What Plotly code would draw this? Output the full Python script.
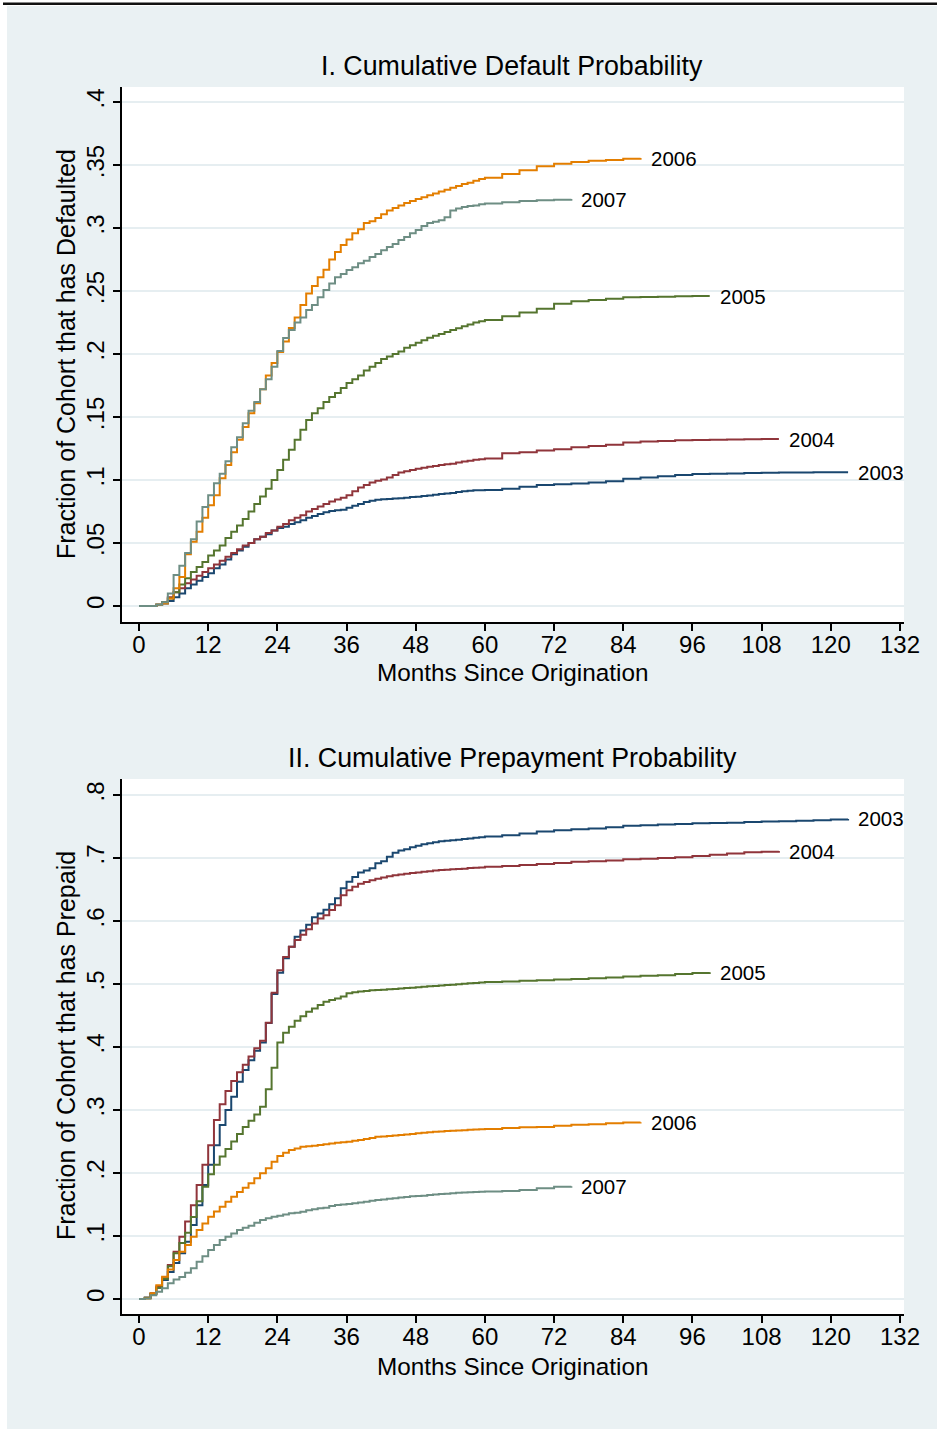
import plotly.graph_objects as go

# Target picture size (what the reference is measured in)
REF_W, REF_H = 937, 1429
# The rendered page turns out to be laid out ~953 px wide and shown at 937 px,
# so the figure is made 953 wide; all positions below are given in picture pixels.
FIG_W, FIG_H = 953, 1429
FONT = "Liberation Sans, Arial, Helvetica, sans-serif"

# ---------------- data ----------------
# month grid: monthly up to 60, then every 3 months
MONTH_GRID = list(range(0, 61)) + list(range(63, 124, 3))
COHORTS = ["2003", "2004", "2005", "2006", "2007"]

# Panel I: cumulative default probability
default_2003 = [0, 0, 0, 0.001, 0.002, 0.004, 0.007, 0.010, 0.014, 0.017,
                0.020, 0.023, 0.026, 0.030, 0.033, 0.037, 0.041, 0.044, 0.047, 0.050,
                0.053, 0.055, 0.057, 0.060, 0.062, 0.063, 0.065, 0.0665, 0.068, 0.070,
                0.0715, 0.073, 0.0745, 0.0755, 0.076, 0.0765, 0.078, 0.0795, 0.081, 0.0825,
                0.0835, 0.0843, 0.0848, 0.085, 0.0853, 0.0856, 0.086, 0.0865, 0.0868, 0.0873,
                0.0878, 0.0883, 0.0889, 0.0893, 0.0898, 0.0904, 0.091, 0.0914, 0.0918, 0.0919,
                0.092,
                0.093, 0.0947, 0.096, 0.0966, 0.0972, 0.098, 0.099, 0.101, 0.102, 0.103,
                0.104, 0.1047, 0.105, 0.1052, 0.1055, 0.1058, 0.106, 0.106, 0.1061, 0.1062, 0.1062]
default_2004 = [0, 0, 0, 0.001, 0.003, 0.007, 0.011, 0.014, 0.018, 0.021,
                0.024, 0.027, 0.030, 0.033, 0.036, 0.039, 0.042, 0.045, 0.048, 0.050,
                0.053, 0.055, 0.058, 0.060, 0.063, 0.065, 0.068, 0.070, 0.072, 0.075,
                0.077, 0.079, 0.081, 0.083, 0.0845, 0.086, 0.088, 0.091, 0.094, 0.096,
                0.098, 0.0995, 0.1005, 0.102, 0.104, 0.106, 0.107, 0.108, 0.109, 0.1098,
                0.1105, 0.1112, 0.112, 0.1125, 0.113, 0.114, 0.1148, 0.1153, 0.116, 0.1165,
                0.117,
                0.1212, 0.122, 0.1235, 0.1245, 0.126, 0.127, 0.128, 0.1297, 0.1305, 0.131,
                0.1315, 0.1318, 0.132, 0.1322, 0.1323, 0.1325, 0.1325]
default_2005 = [0, 0, 0, 0.001, 0.003, 0.006, 0.011, 0.017, 0.022, 0.027,
                0.031, 0.035, 0.040, 0.044, 0.048, 0.054, 0.059, 0.064, 0.069, 0.075,
                0.081, 0.087, 0.093, 0.100, 0.108, 0.116, 0.124, 0.132, 0.140, 0.1476,
                0.153, 0.157, 0.162, 0.166, 0.169, 0.173, 0.177, 0.180, 0.183, 0.187,
                0.190, 0.193, 0.196, 0.198, 0.200, 0.202, 0.205, 0.207, 0.209, 0.211,
                0.213, 0.2145, 0.216, 0.2175, 0.219, 0.2205, 0.222, 0.2235, 0.225, 0.226,
                0.227,
                0.230, 0.233, 0.236, 0.240, 0.242, 0.243, 0.244, 0.245, 0.2452, 0.2455,
                0.2458, 0.246, 0.246]
default_2006 = [0, 0, 0, 0.001, 0.002, 0.006, 0.014, 0.023, 0.041, 0.051,
                0.059, 0.070, 0.080, 0.088, 0.1015, 0.112, 0.122, 0.132, 0.142, 0.153,
                0.161, 0.172, 0.183, 0.193, 0.2016, 0.210, 0.2206, 0.229, 0.239, 0.248,
                0.254, 0.261, 0.267, 0.275, 0.281, 0.2865, 0.291, 0.296, 0.299, 0.304,
                0.3055, 0.308, 0.311, 0.314, 0.316, 0.318, 0.320, 0.3215, 0.323, 0.3245,
                0.326, 0.3275, 0.329, 0.3305, 0.332, 0.3335, 0.335, 0.336, 0.3375, 0.339,
                0.340,
                0.343, 0.346, 0.349, 0.351, 0.3525, 0.3535, 0.354, 0.355, 0.3556]
default_2007 = [0, 0, 0, 0.001, 0.003, 0.010, 0.0246, 0.032, 0.042, 0.053,
                0.067, 0.0786, 0.088, 0.0975, 0.105, 0.115, 0.126, 0.134, 0.145, 0.155,
                0.162, 0.172, 0.180, 0.190, 0.2024, 0.2127, 0.219, 0.225, 0.229, 0.235,
                0.2389, 0.245, 0.2508, 0.256, 0.261, 0.2635, 0.2667, 0.269, 0.272, 0.274,
                0.277, 0.2794, 0.2825, 0.285, 0.2873, 0.2905, 0.293, 0.296, 0.2984, 0.3016,
                0.304, 0.305, 0.3063, 0.3087, 0.314, 0.3155, 0.3167, 0.3175, 0.318, 0.319,
                0.3195,
                0.3205, 0.3215, 0.322, 0.3225, 0.323]

# Panel II: cumulative prepayment probability
prepay_2003 = [0, 0.002, 0.008, 0.018, 0.030, 0.043, 0.057, 0.0725, 0.091, 0.1175,
               0.149, 0.181, 0.213, 0.244, 0.276, 0.300, 0.321, 0.345, 0.3635, 0.379,
               0.394, 0.407, 0.438, 0.484, 0.518, 0.541, 0.559, 0.575, 0.585, 0.594,
               0.606, 0.612, 0.618, 0.6265, 0.636, 0.652, 0.6625, 0.670, 0.677, 0.680,
               0.6836, 0.6916, 0.695, 0.702, 0.7085, 0.712, 0.714, 0.717, 0.7196, 0.722,
               0.7235, 0.725, 0.7265, 0.7275, 0.728, 0.729, 0.730, 0.731, 0.732, 0.733,
               0.734,
               0.736, 0.739, 0.742, 0.744, 0.7455, 0.747, 0.749, 0.751, 0.752, 0.753,
               0.754, 0.755, 0.7555, 0.756, 0.757, 0.758, 0.7585, 0.759, 0.760, 0.761, 0.762]
prepay_2004 = [0, 0.002, 0.009, 0.020, 0.033, 0.054, 0.075, 0.099, 0.123, 0.149,
               0.181, 0.213, 0.244, 0.284, 0.309, 0.330, 0.346, 0.360, 0.372, 0.385,
               0.398, 0.410, 0.4386, 0.486, 0.522, 0.543, 0.559, 0.570, 0.578, 0.587,
               0.596, 0.604, 0.609, 0.6175, 0.625, 0.641, 0.649, 0.6545, 0.659, 0.662,
               0.6645, 0.667, 0.669, 0.671, 0.6725, 0.674, 0.675, 0.676, 0.677, 0.678,
               0.679, 0.680, 0.681, 0.6815, 0.682, 0.6825, 0.683, 0.684, 0.6845, 0.685,
               0.686,
               0.6875, 0.689, 0.6905, 0.692, 0.694, 0.695, 0.696, 0.698, 0.699, 0.700,
               0.701, 0.703, 0.705, 0.707, 0.709, 0.710, 0.711]
prepay_2005 = [0, 0.002, 0.008, 0.018, 0.032, 0.052, 0.0725, 0.089, 0.105, 0.130,
               0.155, 0.178, 0.198, 0.213, 0.226, 0.238, 0.250, 0.262, 0.273, 0.283,
               0.293, 0.305, 0.333, 0.367, 0.407, 0.4227, 0.432, 0.4418, 0.449, 0.456,
               0.461, 0.4667, 0.472, 0.4745, 0.477, 0.480, 0.4852, 0.487, 0.488, 0.489,
               0.490, 0.4905, 0.491, 0.4915, 0.492, 0.4928, 0.4935, 0.494, 0.495, 0.4957,
               0.4963, 0.497, 0.4977, 0.4983, 0.499, 0.4997, 0.5003, 0.501, 0.5017, 0.5023,
               0.503,
               0.504, 0.505, 0.506, 0.507, 0.508, 0.509, 0.5105, 0.512, 0.513, 0.514,
               0.516, 0.5175, 0.5185]
prepay_2006 = [0, 0.001, 0.009, 0.022, 0.0354, 0.047, 0.062, 0.075, 0.0857, 0.099,
               0.1095, 0.120, 0.1307, 0.139, 0.1466, 0.1545, 0.1624, 0.170, 0.1767, 0.1836,
               0.1915, 0.1995, 0.2074, 0.218, 0.227, 0.2323, 0.2365, 0.239, 0.2418, 0.2423,
               0.2434, 0.2445, 0.2455, 0.2468, 0.248, 0.249, 0.2497, 0.251, 0.2524, 0.254,
               0.2556, 0.2577, 0.258, 0.2588, 0.2595, 0.2603, 0.261, 0.262, 0.263, 0.2638,
               0.2645, 0.2653, 0.266, 0.2665, 0.267, 0.2675, 0.268, 0.2685, 0.269, 0.2695,
               0.270,
               0.2715, 0.2725, 0.273, 0.275, 0.2765, 0.2775, 0.279, 0.280, 0.2805]
prepay_2007 = [0, 0.001, 0.006, 0.0116, 0.017, 0.025, 0.031, 0.035, 0.0418, 0.0487,
               0.059, 0.068, 0.0778, 0.0857, 0.0937, 0.099, 0.104, 0.1095, 0.113, 0.1164,
               0.121, 0.1254, 0.128, 0.1307, 0.1323, 0.134, 0.136, 0.137, 0.1386, 0.141,
               0.1423, 0.144, 0.145, 0.1476, 0.1492, 0.150, 0.151, 0.152, 0.153, 0.1545,
               0.156, 0.157, 0.158, 0.159, 0.160, 0.161, 0.162, 0.163, 0.1635, 0.164,
               0.165, 0.166, 0.1665, 0.167, 0.168, 0.1685, 0.169, 0.1695, 0.170, 0.1702,
               0.1705,
               0.1715, 0.173, 0.176, 0.178, 0.179]

DEFAULT_SERIES = [default_2003, default_2004, default_2005, default_2006, default_2007]
PREPAY_SERIES = [prepay_2003, prepay_2004, prepay_2005, prepay_2006, prepay_2007]

X_TICKS = [0, 12, 24, 36, 48, 60, 72, 84, 96, 108, 120, 132]
DEF_TICKS = [0, 0.05, 0.1, 0.15, 0.2, 0.25, 0.3, 0.35, 0.4]
DEF_TICKTEXT = ["0", ".05", ".1", ".15", ".2", ".25", ".3", ".35", ".4"]
PRE_TICKS = [0, 0.1, 0.2, 0.3, 0.4, 0.5, 0.6, 0.7, 0.8]
PRE_TICKTEXT = ["0", ".1", ".2", ".3", ".4", ".5", ".6", ".7", ".8"]

TITLE_1 = "I. Cumulative Default Probability"
TITLE_2 = "II. Cumulative Prepayment Probability"
XTITLE = "Months Since Origination"
YTITLE_1 = "Fraction of Cohort that has Defaulted"
YTITLE_2 = "Fraction of Cohort that has Prepaid"

# ---------------- style ----------------
COLORS = ["#1A476F", "#90353B", "#55752F", "#E37E00", "#6E8E84"]
BG = "#EAF1F3"
GRID = "#E6EEF1"


def px(x):
    """picture pixel x -> paper fraction"""
    return x / REF_W


def py(y):
    """picture pixel y -> paper fraction"""
    return 1 - y / REF_H


fig = go.Figure()
for series_list, xa, ya in [(DEFAULT_SERIES, "x", "y"), (PREPAY_SERIES, "x2", "y2")]:
    for name, vals, col in zip(COHORTS, series_list, COLORS):
        months = MONTH_GRID[:len(vals)]
        fig.add_trace(go.Scatter(x=months, y=vals, mode="lines", xaxis=xa, yaxis=ya,
                                 line=dict(color=col, width=2, shape="hv"),
                                 showlegend=False, name=name))
        fig.add_annotation(x=months[-1], y=vals[-1], xref=xa, yref=ya, text=name,
                           showarrow=False, xanchor="left", yanchor="middle",
                           xshift=8, yshift=0,
                           font=dict(family=FONT, size=20.5, color="#000"))

axis_common = dict(showline=True, linecolor="#000", linewidth=1.5, mirror=False,
                   ticks="outside", ticklen=7, tickwidth=1.5, tickcolor="#000",
                   zeroline=False, tickfont=dict(family=FONT, size=24, color="#000"))

x_dom = [px(122), px(904)]
fig.update_layout(
    width=FIG_W, height=FIG_H, autosize=False,
    margin=dict(l=0, r=0, t=0, b=0),
    paper_bgcolor=BG, plot_bgcolor="#FFFFFF",
    xaxis=dict(domain=x_dom, anchor="y", range=[-2.95, 132.7], tickvals=X_TICKS,
               showgrid=False, ticklabelstandoff=-7, **axis_common),
    yaxis=dict(domain=[py(622), py(87)], anchor="x", range=[-0.0127, 0.412],
               tickvals=DEF_TICKS, ticktext=DEF_TICKTEXT, tickangle=-90,
               showgrid=True, gridcolor=GRID, gridwidth=1.5, **axis_common),
    xaxis2=dict(domain=x_dom, anchor="y2", range=[-2.95, 132.7], tickvals=X_TICKS,
                showgrid=False, ticklabelstandoff=-7, **axis_common),
    yaxis2=dict(domain=[py(1314), py(779)], anchor="x2", range=[-0.0238, 0.8254],
                tickvals=PRE_TICKS, ticktext=PRE_TICKTEXT, tickangle=-90,
                showgrid=True, gridcolor=GRID, gridwidth=1.5, **axis_common),
)

# page frame: white margins and a dark rule along the top
fig.add_shape(type="rect", xref="paper", yref="paper", x0=0, x1=px(7), y0=0, y1=1,
              fillcolor="#FFFFFF", line_width=0, layer="below")
fig.add_shape(type="rect", xref="paper", yref="paper", x0=0, x1=1, y0=py(6), y1=1,
              fillcolor="#FFFFFF", line_width=0, layer="below")
fig.add_shape(type="line", xref="paper", yref="paper", x0=px(3), x1=1, y0=py(3.8), y1=py(3.8),
              line=dict(color="#111111", width=2.5))


def text_ann(x, y, text, size, angle=0):
    fig.add_annotation(x=px(x), y=py(y), xref="paper", yref="paper", text=text,
                       showarrow=False, xanchor="center", yanchor="middle",
                       textangle=angle, font=dict(family=FONT, size=size, color="#000"))


text_ann(512, 66, TITLE_1, 26.8)
text_ann(512, 672, XTITLE, 24.3)
text_ann(66, 354, YTITLE_1, 25, -90)
text_ann(512, 758, TITLE_2, 26.8)
text_ann(512, 1366, XTITLE, 24.3)
text_ann(66, 1046, YTITLE_2, 25, -90)

fig.write_html("out.html",
               config={"displayModeBar": False, "responsive": False},
               post_script="document.documentElement.style.margin='0';"
                           "document.documentElement.style.overflow='hidden';"
                           "document.body.style.margin='0';document.body.style.padding='0';"
                           "document.body.style.overflow='hidden';")
